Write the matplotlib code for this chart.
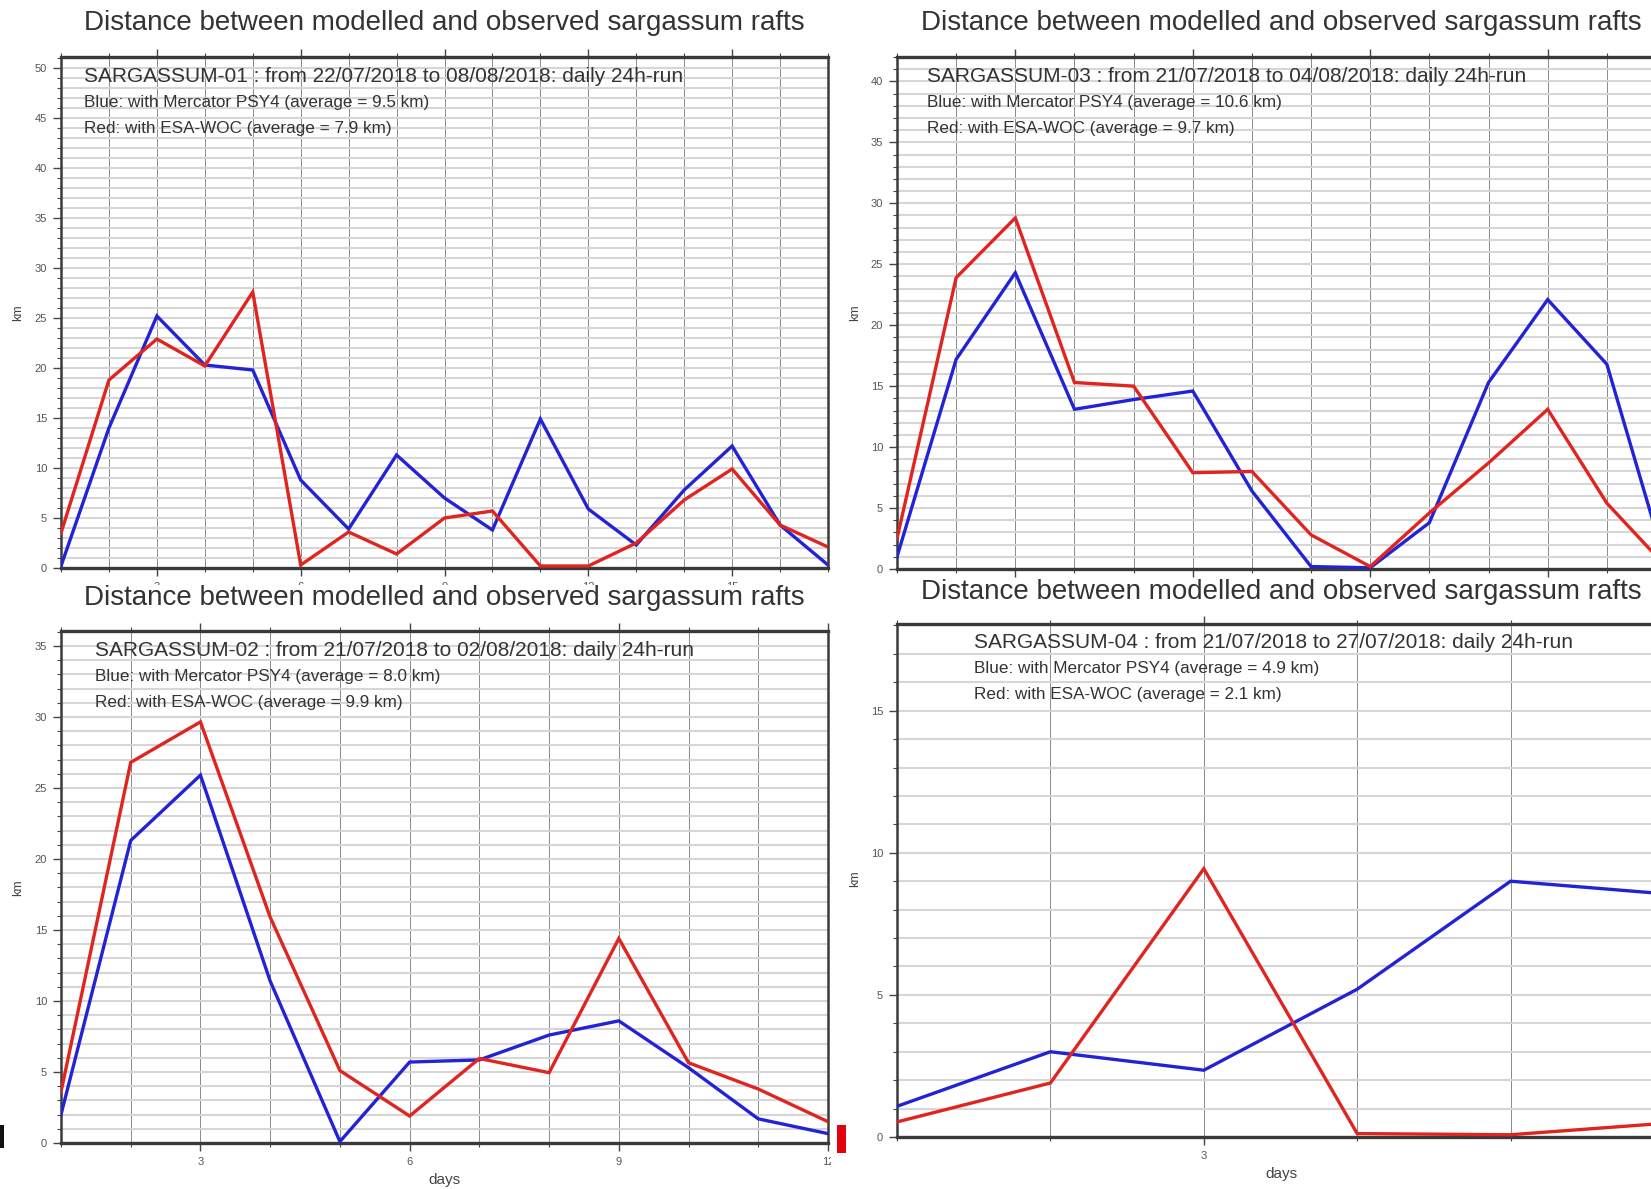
import matplotlib
matplotlib.use("Agg")
import matplotlib.pyplot as plt
from matplotlib.patches import Rectangle
from matplotlib.ticker import MultipleLocator

plt.rcParams['font.family'] = ['Liberation Sans', 'DejaVu Sans']

# ---------------- data ----------------
days_01 = list(range(1, 18))
psy4_01 = [0.2, 14.0, 25.2, 20.3, 19.8, 8.8, 3.9, 11.3, 7.0, 3.8, 14.9, 5.9, 2.3, 7.8, 12.2, 4.3, 0.3]
woc_01 = [3.5, 18.8, 22.9, 20.2, 27.6, 0.3, 3.6, 1.4, 5.0, 5.7, 0.2, 0.2, 2.5, 6.8, 9.9, 4.3, 2.1]

days_02 = list(range(1, 13))
psy4_02 = [2.0, 21.3, 25.9, 11.4, 0.1, 5.7, 5.85, 7.6, 8.6, 5.3, 1.7, 0.66]
woc_02 = [3.6, 26.8, 29.65, 15.9, 5.1, 1.9, 5.95, 4.95, 14.4, 5.65, 3.8, 1.5]

days_03 = list(range(1, 15))
psy4_03 = [1.0, 17.2, 24.3, 13.1, 13.9, 14.6, 6.4, 0.2, 0.1, 3.8, 15.3, 22.1, 16.8, 0.3]
woc_03 = [2.5, 23.9, 28.8, 15.3, 15.0, 7.9, 8.0, 2.8, 0.2, 4.6, 8.7, 13.1, 5.4, 0.2]

days_04 = list(range(1, 7))
psy4_04 = [1.08, 3.0, 2.35, 5.2, 9.0, 8.56]
woc_04 = [0.53, 1.9, 9.44, 0.12, 0.08, 0.48]

title_text = "Distance between modelled and observed sargassum rafts"
headers = {
    "01": ["SARGASSUM-01 : from 22/07/2018 to 08/08/2018: daily 24h-run",
           "Blue: with Mercator PSY4 (average = 9.5 km)",
           "Red: with ESA-WOC (average = 7.9 km)"],
    "02": ["SARGASSUM-02 : from 21/07/2018 to 02/08/2018: daily 24h-run",
           "Blue: with Mercator PSY4 (average = 8.0 km)",
           "Red: with ESA-WOC (average = 9.9 km)"],
    "03": ["SARGASSUM-03 : from 21/07/2018 to 04/08/2018: daily 24h-run",
           "Blue: with Mercator PSY4 (average = 10.6 km)",
           "Red: with ESA-WOC (average = 9.7 km)"],
    "04": ["SARGASSUM-04 : from 21/07/2018 to 27/07/2018: daily 24h-run",
           "Blue: with Mercator PSY4 (average = 4.9 km)",
           "Red: with ESA-WOC (average = 2.1 km)"],
}

W, H = 1651, 1189
fig = plt.figure(figsize=(W / 100, H / 100), dpi=100)
fig.patch.set_facecolor('white')

def fx(px):
    return px / W

def fy(py):
    return 1 - py / H

BLUE = '#2323d6'
RED = '#e02420'

def make_panel(left, top, right, bottom, days, blue, red, ymax, z, head, txt_dx,
               labelbottom=True, visible_xlabels=None):
    ax = fig.add_axes([fx(left), fy(bottom), fx(right) - fx(left), fy(top) - fy(bottom)], zorder=z)
    ax.set_facecolor('white')
    ax.set_xlim(days[0], days[-1])
    ax.set_ylim(0, ymax)
    ax.xaxis.set_major_locator(MultipleLocator(3))
    ax.xaxis.set_minor_locator(MultipleLocator(1))
    ax.yaxis.set_major_locator(MultipleLocator(5))
    ax.yaxis.set_minor_locator(MultipleLocator(1))
    if visible_xlabels is not None:
        ticks = list(range(3, days[-1] + 1, 3))
        ax.set_xticks(ticks)
        ax.set_xticklabels([str(t) if t in visible_xlabels else '' for t in ticks])
    ax.grid(which='both', axis='y', color='#d6d6d6', lw=1.5, zorder=0)
    ax.grid(which='both', axis='x', color='#8a8a8a', lw=0.7, zorder=0)
    ax.set_axisbelow(True)
    ax.plot(days, blue, color=BLUE, lw=2.4, zorder=3, solid_joinstyle='miter')
    ax.plot(days, red, color=RED, lw=2.4, zorder=3, solid_joinstyle='miter')
    for s in ['top', 'bottom']:
        ax.spines[s].set_linewidth(2.4)
        ax.spines[s].set_color('#3a3a3a')
    for s in ['left', 'right']:
        ax.spines[s].set_linewidth(1.8)
        ax.spines[s].set_color('#3a3a3a')
    ax.tick_params(which='major', direction='out', length=6, width=1.0, color='#444',
                   labelsize=8, labelcolor='#555', top=True, pad=4, labelbottom=labelbottom)
    ax.tick_params(which='minor', direction='out', length=3, width=0.8, color='#444', top=True)
    sizes = [15, 12.3, 12.3]
    dys = [19, 45, 71]
    for t, s, dy in zip(head, sizes, dys):
        fig.text(fx(left + txt_dx), fy(top + dy), t, fontsize=s, color='#333',
                 ha='left', va='center', zorder=z + 0.3)
    return ax

# top-left
ax1 = make_panel(61, 57, 828, 568, days_01, psy4_01, woc_01, 51.1, 0, headers["01"], 23)
fig.text(fx(444.5), fy(23), title_text, fontsize=20, color='#333', ha='center', va='center', zorder=0.1)
fig.text(fx(18), fy(313), "km", fontsize=9, color='#444', rotation=90, ha='center', va='center', zorder=0.1)

# cover lower part of top-left tick labels (image overlap)
fig.add_artist(Rectangle((0, 0), fx(831), fy(585), transform=fig.transFigure,
                         facecolor='white', edgecolor='none', zorder=0.5))

# bottom-left
ax2 = make_panel(61, 631, 828, 1143, days_02, psy4_02, woc_02, 36.05, 0.7, headers["02"], 34)
fig.text(fx(444), fy(598), title_text, fontsize=20, color='#333', ha='center', va='center', zorder=0.8)
fig.text(fx(18), fy(888), "km", fontsize=9, color='#444', rotation=90, ha='center', va='center', zorder=0.8)
fig.text(fx(444), fy(1180), "days", fontsize=11, color='#444', ha='center', va='center', zorder=0.8)

# right column cover
fig.add_artist(Rectangle((fx(831), 0), 1 - fx(831), 1, transform=fig.transFigure,
                         facecolor='white', edgecolor='none', zorder=1))

# top-right
ax3 = make_panel(897, 57, 1666, 569, days_03, psy4_03, woc_03, 42.0, 2, headers["03"], 30,
                 labelbottom=False)
fig.text(fx(1281), fy(23), title_text, fontsize=20, color='#333', ha='center', va='center', zorder=2.2)
fig.text(fx(855), fy(313), "km", fontsize=9, color='#444', rotation=90, ha='center', va='center', zorder=2.2)

fig.add_artist(Rectangle((fx(831), 0), 1 - fx(831), fy(579), transform=fig.transFigure,
                         facecolor='white', edgecolor='none', zorder=3))

# bottom-right
ax4 = make_panel(897, 624, 1664, 1137, days_04, psy4_04, woc_04, 18.05, 4, headers["04"], 77,
                 visible_xlabels=[3])
fig.text(fx(1281), fy(592), title_text, fontsize=20, color='#333', ha='center', va='center', zorder=4.2)
fig.text(fx(855), fy(879), "km", fontsize=9, color='#444', rotation=90, ha='center', va='center', zorder=4.2)
fig.text(fx(1281), fy(1174), "days", fontsize=11, color='#444', ha='center', va='center', zorder=4.2)

# small marks at the slide edges
fig.add_artist(Rectangle((fx(837), fy(1153)), fx(9), 28 / H, transform=fig.transFigure,
                         facecolor='#e3000f', edgecolor='none', zorder=5))
fig.add_artist(Rectangle((0, fy(1148)), fx(4), 23 / H, transform=fig.transFigure,
                         facecolor='#111111', edgecolor='none', zorder=5))

fig.savefig("out.png", dpi=100, facecolor='white')
